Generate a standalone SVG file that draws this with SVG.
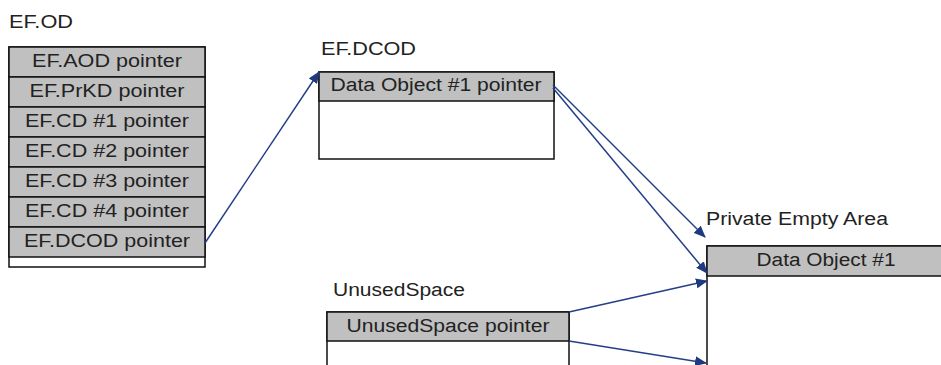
<svg xmlns="http://www.w3.org/2000/svg" width="941" height="365" viewBox="0 0 941 365">
<style>
  text { font-family: "Liberation Sans", Arial, sans-serif; font-size: 18px; fill: #222; }
  .c { text-anchor: middle; }
  .g { fill: #c0c0c0; stroke: #111; stroke-width: 1.5; }
  .w { fill: #fff; stroke: #111; stroke-width: 1.5; }
  .conn { stroke: #243f88; stroke-width: 1.5; fill: none; marker-end: url(#ah); }
</style>
<defs>
  <marker id="ah" markerUnits="userSpaceOnUse" markerWidth="12" markerHeight="10" viewBox="0 0 12 10" refX="11" refY="5" orient="auto">
    <path d="M0,0 L12,5 L0,10 Z" fill="#1f3a80"/>
  </marker>
</defs>
<rect width="941" height="365" fill="#fff"/>

<g id="ef-od">
  <text x="9" y="28" textLength="64" lengthAdjust="spacingAndGlyphs">EF.OD</text>
  <rect class="w" x="9" y="47" width="196" height="220"/>
  <rect class="g" x="9" y="47" width="196" height="30"/>
  <rect class="g" x="9" y="77" width="196" height="30"/>
  <rect class="g" x="9" y="107" width="196" height="30"/>
  <rect class="g" x="9" y="137" width="196" height="30"/>
  <rect class="g" x="9" y="167" width="196" height="30"/>
  <rect class="g" x="9" y="197" width="196" height="30"/>
  <rect class="g" x="9" y="227" width="196" height="30"/>
  <text class="c" x="107" y="67" textLength="150" lengthAdjust="spacingAndGlyphs">EF.AOD pointer</text>
  <text class="c" x="107" y="97" textLength="155" lengthAdjust="spacingAndGlyphs">EF.PrKD pointer</text>
  <text class="c" x="107" y="127" textLength="164" lengthAdjust="spacingAndGlyphs">EF.CD #1 pointer</text>
  <text class="c" x="107" y="157" textLength="164" lengthAdjust="spacingAndGlyphs">EF.CD #2 pointer</text>
  <text class="c" x="107" y="187" textLength="164" lengthAdjust="spacingAndGlyphs">EF.CD #3 pointer</text>
  <text class="c" x="107" y="217" textLength="164" lengthAdjust="spacingAndGlyphs">EF.CD #4 pointer</text>
  <text class="c" x="107" y="247" textLength="166" lengthAdjust="spacingAndGlyphs">EF.DCOD pointer</text>
</g>

<g id="ef-dcod">
  <text x="321" y="55" textLength="95" lengthAdjust="spacingAndGlyphs">EF.DCOD</text>
  <rect class="w" x="319" y="72" width="235" height="87"/>
  <rect class="g" x="319" y="72" width="235" height="29"/>
  <text class="c" x="436" y="91" textLength="211" lengthAdjust="spacingAndGlyphs">Data Object #1 pointer</text>
</g>

<g id="private-empty-area">
  <text x="706" y="225" textLength="182" lengthAdjust="spacingAndGlyphs">Private Empty Area</text>
  <rect class="w" x="707" y="246" width="245" height="130"/>
  <rect class="g" x="707" y="246" width="245" height="30"/>
  <text class="c" x="826" y="266" textLength="139" lengthAdjust="spacingAndGlyphs">Data Object #1</text>
</g>

<g id="unused-space">
  <text x="333" y="296" textLength="132" lengthAdjust="spacingAndGlyphs">UnusedSpace</text>
  <rect class="w" x="327" y="312" width="242" height="70"/>
  <rect class="g" x="327" y="312" width="242" height="29"/>
  <text class="c" x="448" y="332" textLength="203" lengthAdjust="spacingAndGlyphs">UnusedSpace pointer</text>
</g>

<g id="connectors">
  <line class="conn" x1="205" y1="243" x2="319" y2="72"/>
  <line class="conn" x1="553" y1="85" x2="705" y2="237"/>
  <line class="conn" x1="553" y1="88" x2="707" y2="273"/>
  <line class="conn" x1="569" y1="312" x2="707" y2="281"/>
  <line class="conn" x1="569" y1="341" x2="706" y2="363"/>
</g>
</svg>
